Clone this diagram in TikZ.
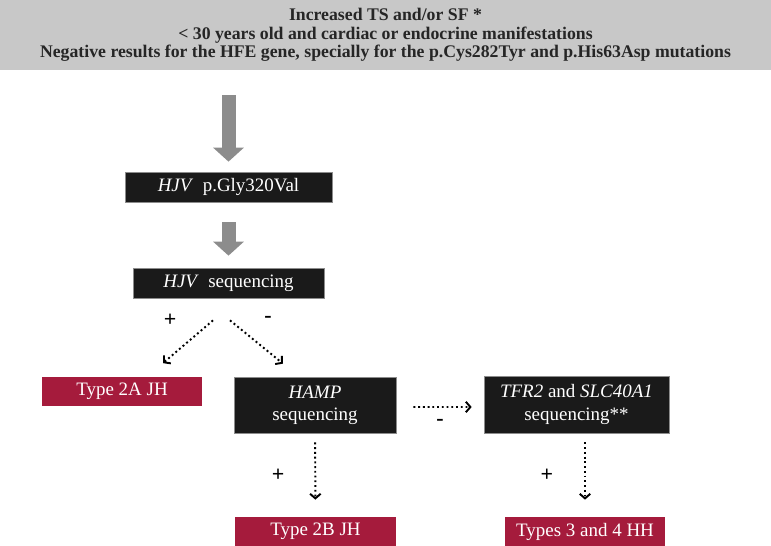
\documentclass[tikz,border=0pt]{standalone}
\usepackage{fontspec}
\setmainfont{Liberation Serif}
\usepackage{tikz}
\usetikzlibrary{arrows.meta}

\definecolor{bandgray}{RGB}{200,200,200}
\definecolor{arrowgray}{RGB}{140,140,140}
\definecolor{boxblack}{RGB}{26,26,26}
\definecolor{typered}{RGB}{165,27,60}

\begin{document}
\begin{tikzpicture}[x=0.02cm, y=-0.02cm,
    darkbox/.style={rectangle, fill=boxblack, draw=arrowgray, line width=0.4pt, text=white,
        align=center, inner sep=0pt, font=\fontsize{10.8}{12.6}\selectfont},
    redbox/.style={rectangle, fill=typered, text=white, inner sep=0pt,
        minimum width=3.22cm, font=\fontsize{10.8}{12.6}\selectfont},
    fatarrow/.style={draw=arrowgray, line width=0.28cm,
        -{Triangle[width=0.6cm, length=0.28cm]}},
    dotarrow/.style={line width=1.1pt, dash pattern=on 1.1pt off 1.6pt,
        -{Straight Barb[length=2.6pt, width=6pt, line width=1.1pt]}},
    sign/.style={font=\fontsize{12.5}{13}\selectfont\bfseries}]

    \useasboundingbox (0,0) rectangle (771,545);

    \node[rectangle, fill=bandgray, minimum width=15.42cm, minimum height=1.4cm, inner sep=0pt,
        align=center, text={black!85}, font=\fontsize{10.1}{10.6}\selectfont\bfseries] (head) at (385.5,35)
        {Increased TS and/or SF *\\
         < 30 years old and cardiac or endocrine manifestations\\
         Negative results for the HFE gene, specially for the p.Cys282Tyr and p.His63Asp mutations};

    \node[darkbox, minimum width=4.14cm, minimum height=0.6cm] (gly) at (228.5,187) {\textit{HJV}\enspace p.Gly320Val};
    \node[darkbox, minimum width=3.82cm, minimum height=0.6cm] (hjvseq) at (228.5,283) {\textit{HJV}\enspace sequencing};
    \node[redbox, minimum height=0.58cm] (type2a) at (122,391) {Type 2A JH};
    \node[darkbox, minimum width=3.24cm, minimum height=1.12cm] (hamp) at (315,405) {\textit{HAMP}\\sequencing};
    \node[darkbox, minimum width=3.7cm, minimum height=1.14cm] (tfr) at (576.5,404.5) {\textit{TFR2} and \textit{SLC40A1}\\sequencing**};
    \node[redbox, minimum height=0.58cm] (type2b) at (315.5,531.5) {Type 2B JH};
    \node[redbox, minimum height=0.58cm] (type34) at (585,531.5) {Types 3 and 4 HH};

    % thick grey arrows
    \draw[fatarrow, shorten <=0.5cm, shorten >=0.2cm] (gly |- head.south) -- (gly);
    \draw[fatarrow, shorten <=0.4cm, shorten >=0.24cm] (gly) -- (hjvseq);

    % dotted branches
    \draw[dotarrow] ([shift={(-15.5,22)}]hjvseq.south) -- ([shift={(41,-13)}]type2a.north)
        node[sign, pos=0, xshift=-0.86cm, yshift=0cm] {+};
    \draw[dotarrow] ([shift={(1.5,22)}]hjvseq.south) -- ([shift={(-32,-13)}]hamp.north)
        node[sign, pos=0, xshift=0.76cm, yshift=0.02cm] {-};
    \draw[dotarrow, shorten <=0.34cm, shorten >=0.24cm] ([yshift=-0.04cm]hamp.east) -- ([yshift=-0.05cm]tfr.west)
        node[sign, midway, below=3pt] {-};
    \draw[dotarrow, shorten <=0.18cm, shorten >=0.34cm] (hamp) -- (type2b)
        node[sign, midway, left=0.48cm] {+};
    \draw[dotarrow, shorten <=0.18cm, shorten >=0.34cm] (type34 |- tfr.south) -- (type34)
        node[sign, midway, left=0.5cm] {+};

\end{tikzpicture}
\end{document}
